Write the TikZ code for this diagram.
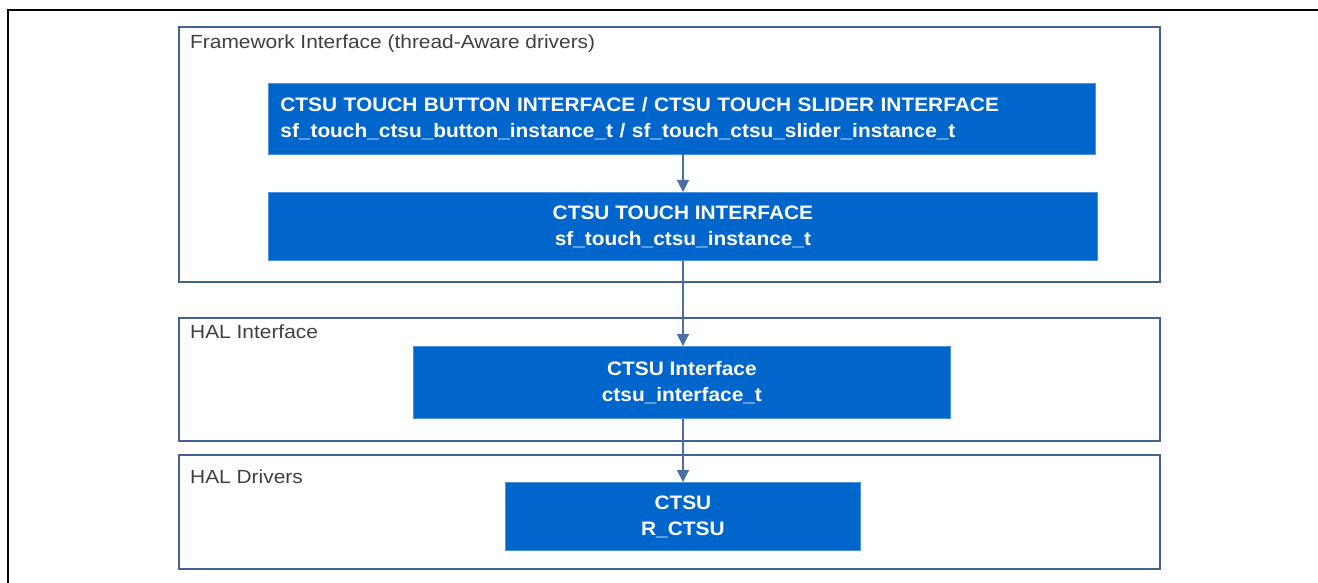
\documentclass[tikz,border=0pt]{standalone}
\usepackage{fontspec}
\setmainfont{Liberation Sans}
\newfontfamily\blkfont[FakeStretch=1.07]{Liberation Sans}
\newfontfamily\lblfont[FakeStretch=1.1]{Liberation Sans}
\usetikzlibrary{arrows.meta}
\definecolor{boxblue}{HTML}{0066CC}
\definecolor{frameblue}{HTML}{41628F}
\definecolor{arrowblue}{HTML}{4A6FA5}
\definecolor{labelgrey}{HTML}{404040}
\tikzset{
  layer/.style={draw=frameblue, line width=1.8pt, fill=white},
  blk/.style={fill=boxblue, draw=boxblue!70!white, line width=0.8pt, text=white,
    font=\blkfont\fontsize{19.5}{26}\selectfont\bfseries, align=center, inner sep=0pt},
  lbl/.style={text=labelgrey, font=\lblfont\fontsize{19}{22}\selectfont, anchor=west, inner sep=0pt},
  conn/.style={draw=arrowblue, line width=1.1pt, -{Triangle[length=12pt,width=12pt]}},
}
\begin{document}
\begin{tikzpicture}[x=1pt,y=-1pt]
\useasboundingbox (0,0) rectangle (1318,583);
% outer frame (cut off)
\draw[line width=2.5pt, black] (8,583) -- (8,10) -- (1318,10);
% layers
\draw[layer] (179,27) rectangle (1160,282);
\draw[layer] (179,318) rectangle (1160,441);
\draw[layer] (179,455) rectangle (1160,569);
\node[lbl] (l1) at (190,44) {Framework Interface (thread-Aware drivers)};
\node[lbl] (l2) at (190,332) {HAL Interface};
\node[lbl] (l3) at (190,477) {HAL Drivers};
% blocks
\node[blk, minimum width=827pt, minimum height=71pt, align=left, text width=803pt, anchor=north west] (b1) at (268,83)
  {CTSU TOUCH BUTTON INTERFACE / CTSU TOUCH SLIDER INTERFACE\\sf\_touch\_ctsu\_button\_instance\_t / sf\_touch\_ctsu\_slider\_instance\_t};
\node[blk, minimum width=829pt, minimum height=68pt, anchor=north west] (b2) at (268,192)
  {CTSU TOUCH INTERFACE\\sf\_touch\_ctsu\_instance\_t};
\node[blk, minimum width=537pt, minimum height=72pt, anchor=north west] (b3) at (413,346)
  {CTSU Interface\\ctsu\_interface\_t};
\node[blk, minimum width=355pt, minimum height=68pt, anchor=north west] (b4) at (505,482)
  {CTSU\\R\_CTSU};
% connectors
\coordinate (a1) at (683,154);
\coordinate (a2) at (683,192);
\draw[conn] (a1) -- (a2);
\draw[conn] (b2.south -| a1) -- (b3.north -| a1);
\draw[conn] (b3.south -| a1) -- (b4.north -| a1);
\end{tikzpicture}
\end{document}
